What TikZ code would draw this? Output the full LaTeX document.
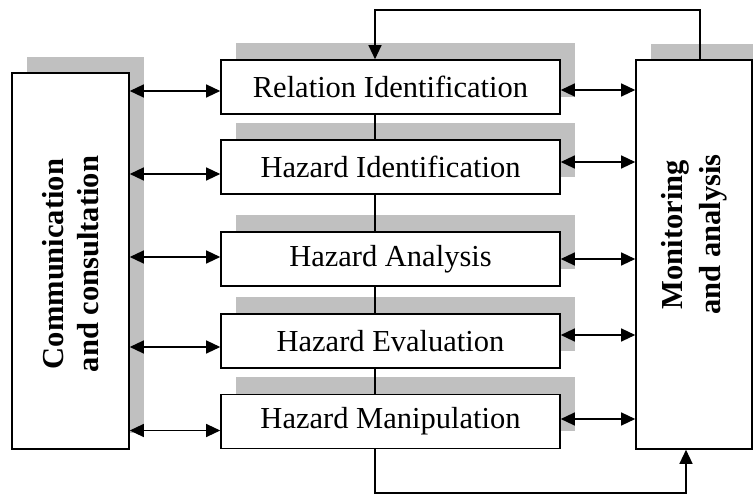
\documentclass[tikz,border=0pt]{standalone}
\usepackage{fontspec}
\setmainfont{Liberation Serif}
\usetikzlibrary{shapes}
\usetikzlibrary{arrows.meta}
\usetikzlibrary{shadows}
\definecolor{shadegray}{RGB}{192,192,192}

\begin{document}
\begin{tikzpicture}[x=1pt,y=-1pt,
	conn/.style={line width=1.3pt},
	tip/.style={-{Triangle[length=14pt,width=13pt]}},
	twotip/.style={{Triangle[length=14pt,width=13pt]}-{Triangle[length=14pt,width=13pt]}},
	stage/.style={draw,line width=1.6pt,fill=white,inner sep=0pt,minimum width=339pt,minimum height=54pt,
		font=\fontsize{30.5}{34}\selectfont,
		drop shadow={shadow xshift=15pt,shadow yshift=17pt,fill=shadegray,opacity=1}},
	side/.style={draw,line width=1.6pt,fill=white,inner sep=0pt,
		drop shadow={shadow xshift=15pt,shadow yshift=16pt,fill=shadegray,opacity=1}},
	vtext/.style={rotate=90,align=center,font=\fontsize{30.5}{35}\selectfont\bfseries}]
		\useasboundingbox (0,0) rectangle (753,494);
		\node[side,minimum width=117pt,minimum height=376pt] (comm) at (70.5,261) {};
		\node[vtext] (commtext) at ([yshift=-3pt]comm.center) {Communication\\and consultation};
		\node[side,minimum width=116pt,minimum height=389pt] (mon) at (694,254.5) {};
		\node[vtext,font=\fontsize{30.5}{38}\selectfont\bfseries] (montext) at ([yshift=20pt]mon.center) {Monitoring\\and analysis};
		\foreach \n/\y/\t in {rel/87/Relation Identification,hid/167/Hazard Identification,
			ana/259/Hazard Analysis,eva/341/Hazard Evaluation,man/421.5/Hazard Manipulation}
			\node[stage] (\n) at (390.5,\y) {\t};
		\coordinate (spine) at (375,0);
		\foreach \a/\b in {rel/hid,hid/ana,ana/eva,eva/man}
			\draw[conn] (spine |- \a.south) -- (spine |- \b.north);
		\foreach \n/\l/\r in {rel/4/3,hid/7/-5,ana/-2/0,eva/6/-6,man/9/-2.5}{
			\coordinate (l\n) at ([shift={(0,\l)}]\n.west);
			\coordinate (r\n) at ([shift={(0,\r)}]\n.east);
			\draw[conn,twotip] (comm.east |- l\n) -- (l\n);
			\draw[conn,twotip] (r\n) -- (mon.west |- r\n);
		}
		\coordinate (topleft) at (375,10);
		\coordinate (topright) at (700,10);
		\draw[conn,tip] (topright |- mon.north) -- (topright) -- (topleft) -- (topleft |- rel.north);
		\coordinate (botleft) at (375,493);
		\coordinate (botright) at (686,493);
		\draw[conn,tip] (botleft |- man.south) -- (botleft) -- (botright) -- (botright |- mon.south);
\end{tikzpicture}
\end{document}
